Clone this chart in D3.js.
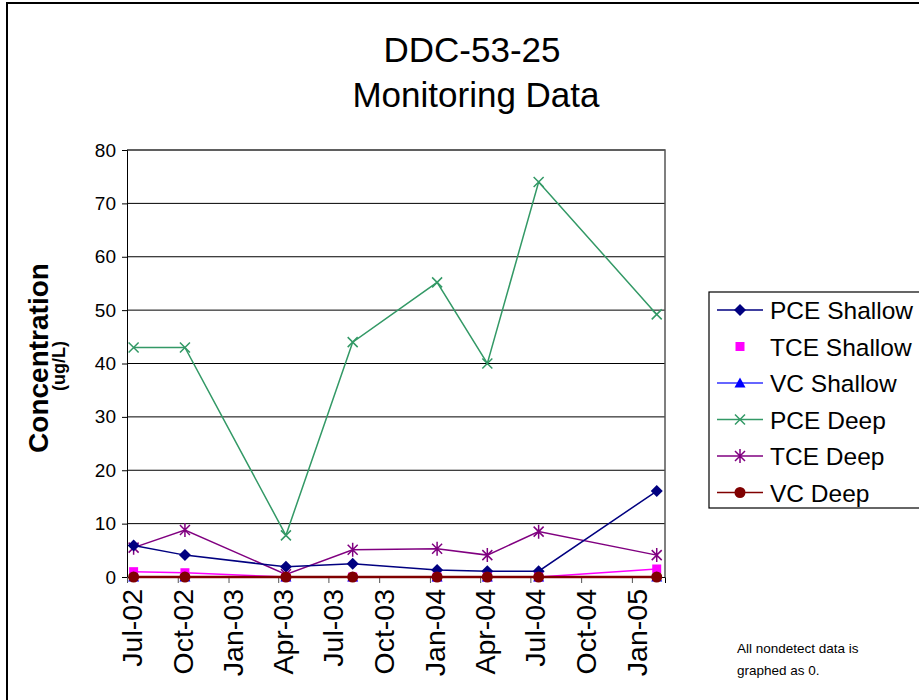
<!DOCTYPE html>
<html>
<head>
<meta charset="utf-8">
<script src="https://cdn.jsdelivr.net/npm/d3@7/dist/d3.min.js"></script>
<style>
  body { margin: 0; background: #fff; }
  svg { display: block; font-family: "Liberation Sans", Arial, sans-serif; }
</style>
</head>
<body>
<svg id="chart" width="919" height="700"></svg>
<script>
// sample dates and series values (ug/L)
var sampleDates = ["2002-07-13", "2002-10-14", "2003-04-15", "2003-08-14",
                   "2004-01-14", "2004-04-14", "2004-07-16", "2005-02-15"];
var pceShallow = [5.9, 4.1, 1.9, 2.5, 1.3, 1.1, 1.1, 16.1];
var tceShallow = [1.0, 0.8, 0, 0, 0, 0, 0, 1.5];
var vcShallow  = [0, 0, 0, 0, 0, 0, 0, 0];
var pceDeep    = [43, 43, 7.8, 44, 55.2, 40, 74, 49.2];
var tceDeep    = [5.5, 8.8, 0.5, 5.1, 5.3, 4.1, 8.5, 4.1];
var vcDeep     = [0, 0, 0, 0, 0, 0, 0, 0];
var yTicks = [0, 10, 20, 30, 40, 50, 60, 70, 80];
var dateRange = ["2002-07-01", "2005-03-02"];

var seriesNames = ["PCE Shallow", "TCE Shallow", "VC Shallow", "PCE Deep", "TCE Deep", "VC Deep"];
var seriesValues = [pceShallow, tceShallow, vcShallow, pceDeep, tceDeep, vcDeep];

var styles = [
    {color: '#000080', lineColor: '#000080', marker: 'diamond', width: 1.5, legendLine: true},
    {color: '#ff00ff', lineColor: '#ff00ff', marker: 'square', width: 1.5, legendLine: false},
    {color: '#0000ff', lineColor: '#3333ff', marker: 'triangle', width: 1.5, legendLine: true},
    {color: '#339966', lineColor: '#339966', marker: 'x', width: 1.5, legendLine: true},
    {color: '#800080', lineColor: '#800080', marker: 'star', width: 1.5, legendLine: true},
    {color: '#800000', lineColor: '#800000', marker: 'circle', width: 2.5, legendLine: true}
];

var parse = d3.timeParse('%Y-%m-%d');
var svg = d3.select('#chart');

var plot = {left: 127, right: 665, top: 150, bottom: 577};

var x = d3.scaleTime()
    .domain(dateRange.map(parse))
    .range([plot.left, plot.right]);
var y = d3.scaleLinear()
    .domain([0, 80])
    .range([plot.bottom, plot.top]);

// outer chart border
svg.append('rect')
    .attr('x', 7).attr('y', 3)
    .attr('width', 930).attr('height', 710)
    .attr('fill', 'none')
    .attr('stroke', '#000')
    .attr('stroke-width', 2);

// title
var title = svg.append('text')
    .attr('text-anchor', 'middle')
    .attr('font-size', 35)
    .attr('fill', '#000');
title.append('tspan').attr('x', 472).attr('y', 62).text('DDC-53-25');
title.append('tspan').attr('x', 476).attr('y', 107).text('Monitoring Data');

// grid lines
svg.append('g').selectAll('line')
    .data(yTicks.slice(1))
    .enter().append('line')
    .attr('x1', plot.left).attr('x2', plot.right)
    .attr('y1', function (d) { return y(d); })
    .attr('y2', function (d) { return y(d); })
    .attr('stroke', '#000')
    .attr('stroke-width', 1);

// plot border (top + right, gray shade)
svg.append('path')
    .attr('d', 'M' + plot.left + ',' + plot.top + 'H' + plot.right + 'V' + plot.bottom)
    .attr('fill', 'none')
    .attr('stroke', '#555')
    .attr('stroke-width', 1.5);

// y axis
var yAxis = svg.append('g')
    .attr('transform', 'translate(' + plot.left + ',0)')
    .call(d3.axisLeft(y).tickValues(yTicks).tickSize(5).tickPadding(6).tickFormat(d3.format('d')));
yAxis.select('.domain').attr('stroke', '#000');
yAxis.selectAll('text')
    .attr('font-size', 19)
    .attr('font-family', '"Liberation Sans", Arial, sans-serif')
    .attr('fill', '#000');

// x axis
var xAxis = svg.append('g')
    .attr('transform', 'translate(0,' + plot.bottom + ')')
    .call(d3.axisBottom(x).ticks(d3.timeMonth.every(3)).tickSize(6).tickFormat(d3.timeFormat('%b-%y')));
xAxis.select('.domain').attr('stroke', '#000');
xAxis.selectAll('line').attr('stroke', '#555');
xAxis.selectAll('text')
    .attr('font-size', 28.5)
    .attr('font-family', '"Liberation Sans", Arial, sans-serif')
    .attr('fill', '#000')
    .attr('text-anchor', 'end')
    .attr('dy', '0.5em')
    .attr('transform', 'rotate(-90)')
    .attr('x', -12)
    .attr('y', 0);

// y axis title
var yTitle = svg.append('text')
    .attr('transform', 'translate(48,358) rotate(-90)')
    .attr('text-anchor', 'middle')
    .attr('font-weight', 'bold')
    .attr('fill', '#000');
yTitle.append('tspan').attr('x', 0).attr('y', 0).attr('font-size', 28).text('Concentration');
yTitle.append('tspan').attr('x', -8).attr('y', 17).attr('font-size', 18).text('(ug/L)');

// marker path builder
function markerPath(type) {
    if (type === 'diamond') return 'M0,-6L6,0L0,6L-6,0Z';
    if (type === 'square') return 'M-4.5,-4.5H4.5V4.5H-4.5Z';
    if (type === 'triangle') return 'M0,-5.5L5.5,4.5H-5.5Z';
    if (type === 'circle') return d3.symbol(d3.symbolCircle, 95)();
    if (type === 'x') return 'M-5,-5L5,5M-5,5L5,-5';
    if (type === 'star') return 'M-5,-5L5,5M-5,5L5,-5M0,-7V7';
    return '';
}
function drawMarker(g, st) {
    var stroked = st.marker === 'x' || st.marker === 'star';
    g.append('path')
        .attr('d', markerPath(st.marker))
        .attr('fill', stroked ? 'none' : st.color)
        .attr('stroke', stroked ? st.color : 'none')
        .attr('stroke-width', stroked ? 1.5 : 0);
}

var line = d3.line()
    .x(function (d) { return x(d.date); })
    .y(function (d) { return y(d.value); });

// draw series: lines first (in order), then markers
var order = [3, 4, 0, 1, 2, 5];
var seriesData = seriesValues.map(function (vals) {
    return vals.map(function (v, i) { return {date: parse(sampleDates[i]), value: v}; });
});

order.forEach(function (s) {
    svg.append('path')
        .datum(seriesData[s])
        .attr('d', line)
        .attr('fill', 'none')
        .attr('stroke', styles[s].lineColor)
        .attr('stroke-width', styles[s].width);
});
order.forEach(function (s) {
    var g = svg.append('g');
    seriesData[s].forEach(function (d) {
        var m = g.append('g').attr('transform', 'translate(' + x(d.date) + ',' + y(d.value) + ')');
        drawMarker(m, styles[s]);
    });
});

// legend
var legend = svg.append('g').attr('transform', 'translate(709,292)');
legend.append('rect')
    .attr('x', 0).attr('y', 0)
    .attr('width', 230).attr('height', 216)
    .attr('fill', '#fff')
    .attr('stroke', '#000')
    .attr('stroke-width', 1.2);
seriesNames.forEach(function (name, i) {
    var yy = 18 + i * 36.5;
    var item = legend.append('g').attr('transform', 'translate(0,' + yy + ')');
    if (styles[i].legendLine) {
        item.append('line')
            .attr('x1', 8).attr('x2', 54)
            .attr('y1', 0).attr('y2', 0)
            .attr('stroke', styles[i].lineColor)
            .attr('stroke-width', 1.5);
    }
    var m = item.append('g').attr('transform', 'translate(31,0)');
    drawMarker(m, styles[i]);
    item.append('text')
        .attr('x', 61).attr('y', 9)
        .attr('font-size', 24.5)
        .attr('fill', '#000')
        .text(name);
});

// note
var note = svg.append('text')
    .attr('font-size', 13.5)
    .attr('fill', '#000');
note.append('tspan').attr('x', 737).attr('y', 653).text('All nondetect data is');
note.append('tspan').attr('x', 737).attr('y', 675).text('graphed as 0.');
</script>
</body>
</html>
